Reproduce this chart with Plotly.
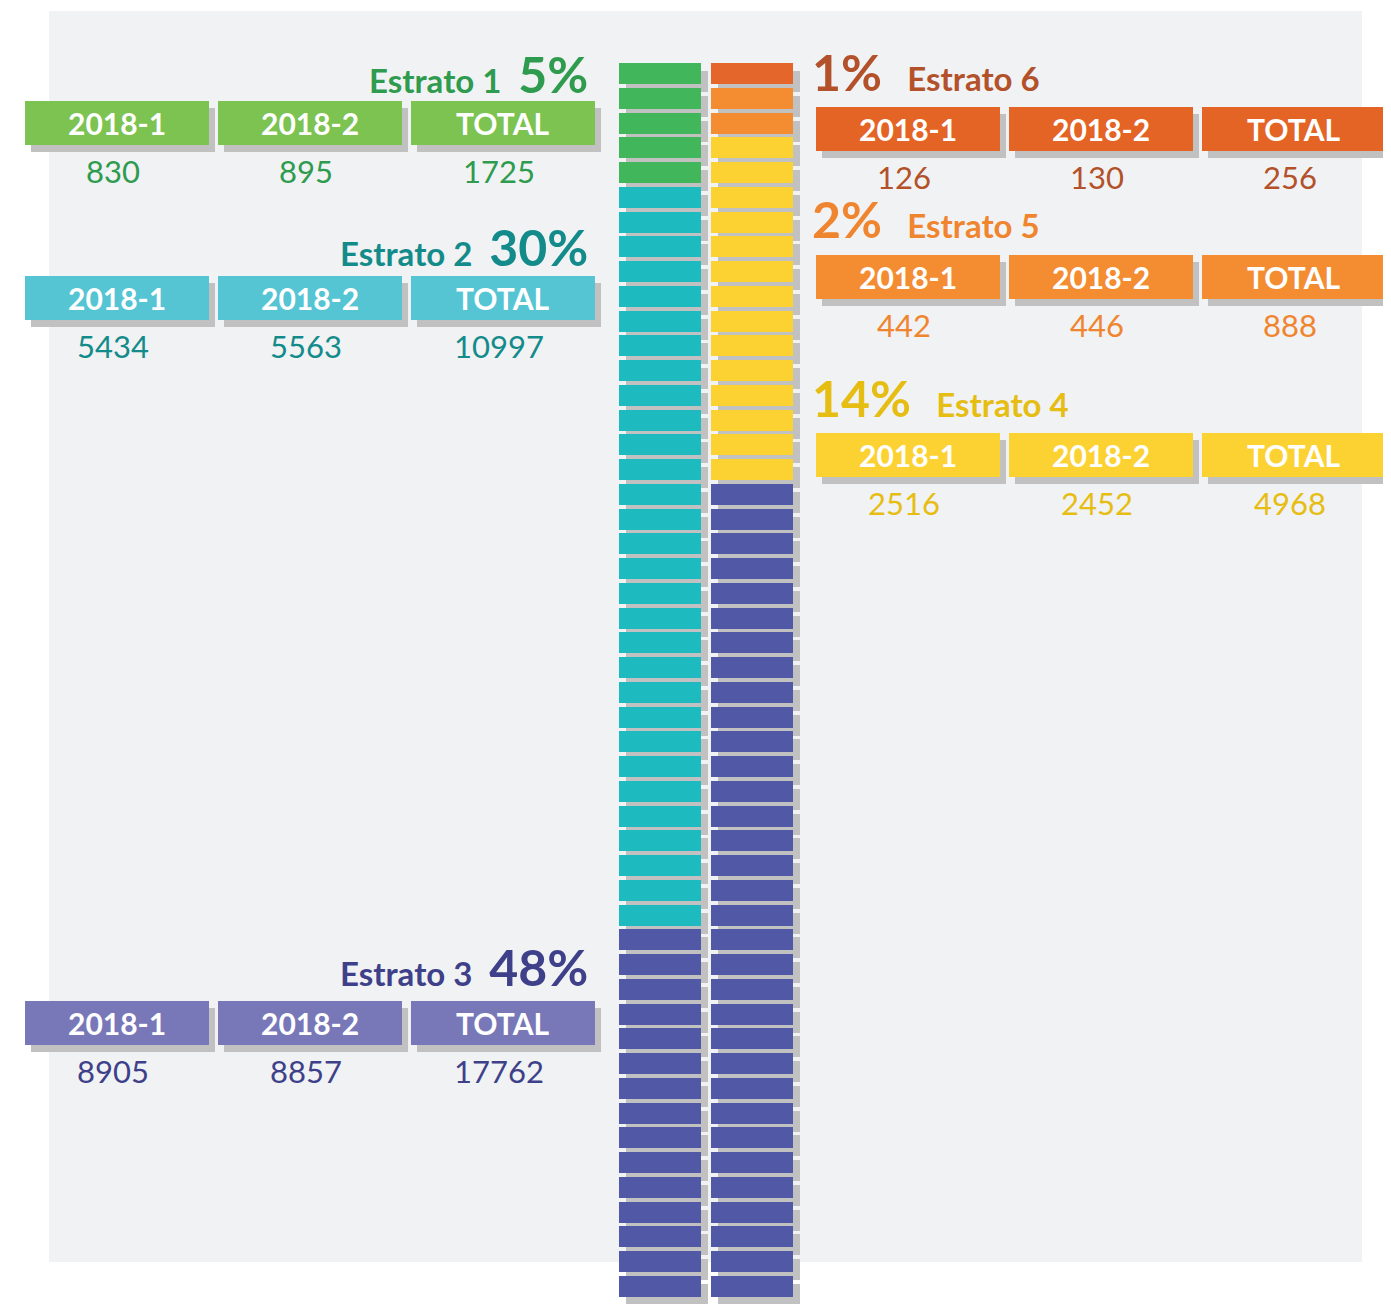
import plotly.graph_objects as go

# ---------------- data ----------------
estratos = ["Estrato 1", "Estrato 2", "Estrato 3", "Estrato 4", "Estrato 5", "Estrato 6"]
porcentaje = [5, 30, 48, 14, 2, 1]
periodo_2018_1 = [830, 5434, 8905, 2516, 442, 126]
periodo_2018_2 = [895, 5563, 8857, 2452, 446, 130]
total = [1725, 10997, 17762, 4968, 888, 256]
encabezados = ["2018-1", "2018-2", "TOTAL"]

# ---------------- styles ----------------
block_colors = ["#41B65A", "#1DBBBF", "#5158A6", "#FCD232", "#F48C31", "#E4662A"]
box_colors = ["#7DC352", "#55C4D3", "#7878B8", "#FCD232", "#F48C31", "#E36424"]
text_colors = ["#2E9B4E", "#138B8B", "#3E4189", "#E6BD12", "#F0852F", "#B3512A"]
SHADOW = "#C1C1C1"
FONT = "Lato"

W, H = 1391, 1304
PAGE_OFF = 8  # default page body margin
ROWS = 50
TOP, PITCH, BH = 63, 24.75, 21
COL_X = [660, 752]
BW = 82
SH_DX, SH_DY = 7, 8

# group layout (left: estratos 1-3, right: estratos 4-6)
LEFT_BOX_X = [25, 218, 411]
RIGHT_BOX_X = [816, 1009, 1202]
BOX_W, BOX_H = 184, 44
box_top = [101, 276, 1001, 433, 255, 107]
title_y = [74, 247, 967, 398, 219, 72]

# ---------------- blocks (snake: left column down, right column up) ----------------
cells = []
for k, p in enumerate(porcentaje):
    cells += [k] * p

bx, bbase, bcol = [], [], []
for n, k in enumerate(cells):
    if n < ROWS:
        col, row = 0, n
    else:
        col, row = 1, 2 * ROWS - 1 - n
    bx.append(COL_X[col])
    bbase.append(TOP + row * PITCH)
    bcol.append(block_colors[k])

fig = go.Figure()
fig.add_trace(go.Bar(
    x=[v + SH_DX for v in bx], y=[BH] * len(bx), base=[b + SH_DY for b in bbase],
    width=BW, marker=dict(color=SHADOW, line=dict(width=0)), hoverinfo="skip", showlegend=False))
fig.add_trace(go.Bar(
    x=bx, y=[BH] * len(bx), base=bbase, width=BW,
    marker=dict(color=bcol, line=dict(width=0)),
    customdata=[estratos[k] for k in cells], hovertemplate="%{customdata}<extra></extra>",
    showlegend=False))

shapes = [dict(type="rect", xref="x", yref="y", x0=49, x1=1362, y0=11, y1=1262,
               fillcolor="#F1F2F4", line=dict(width=0), layer="below")]
annotations = []

for k in range(6):
    left = k < 3
    xs = LEFT_BOX_X if left else RIGHT_BOX_X
    vals = [periodo_2018_1[k], periodo_2018_2[k], total[k]]
    for j, x0 in enumerate(xs):
        y0 = box_top[k]
        shapes.append(dict(type="rect", xref="x", yref="y", x0=x0 + 6, x1=x0 + BOX_W + 6,
                           y0=y0 + 7, y1=y0 + BOX_H + 7, fillcolor=SHADOW, line=dict(width=0)))
        shapes.append(dict(type="rect", xref="x", yref="y", x0=x0, x1=x0 + BOX_W,
                           y0=y0, y1=y0 + BOX_H, fillcolor=box_colors[k], line=dict(width=0)))
        annotations.append(dict(x=x0 + BOX_W / 2, y=y0 + BOX_H / 2, xref="x", yref="y",
                                text=f"<b>{encabezados[j]}</b>", showarrow=False,
                                font=dict(family=FONT, size=30, color="white"),
                                xanchor="center", yanchor="middle"))
        annotations.append(dict(x=x0 + BOX_W / 2 - 4, y=y0 + 70, xref="x", yref="y",
                                text=str(vals[j]), showarrow=False,
                                font=dict(family=FONT, size=31, color=text_colors[k]),
                                xanchor="center", yanchor="middle"))
    pct = f"<span style='font-size:50px'><b>{porcentaje[k]}%</b></span>"
    name = f"<b>{estratos[k]}</b>"
    if left:
        text = f"{name}  {pct}"
        annotations.append(dict(x=590, y=title_y[k], xref="x", yref="y", text=text,
                                showarrow=False, xanchor="right", yanchor="middle",
                                font=dict(family=FONT, size=33, color=text_colors[k])))
    else:
        text = f"{pct}   {name}"
        annotations.append(dict(x=810, y=title_y[k], xref="x", yref="y", text=text,
                                showarrow=False, xanchor="left", yanchor="middle",
                                font=dict(family=FONT, size=33, color=text_colors[k])))

fig.update_layout(
    width=W, height=H, margin=dict(l=0, r=0, t=0, b=0),
    paper_bgcolor="white", plot_bgcolor="white",
    barmode="overlay", bargap=0,
    xaxis=dict(range=[PAGE_OFF, W + PAGE_OFF], visible=False, fixedrange=True),
    yaxis=dict(range=[H + PAGE_OFF, PAGE_OFF], visible=False, fixedrange=True),
    shapes=shapes, annotations=annotations,
)

fig.write_html("out.html")
